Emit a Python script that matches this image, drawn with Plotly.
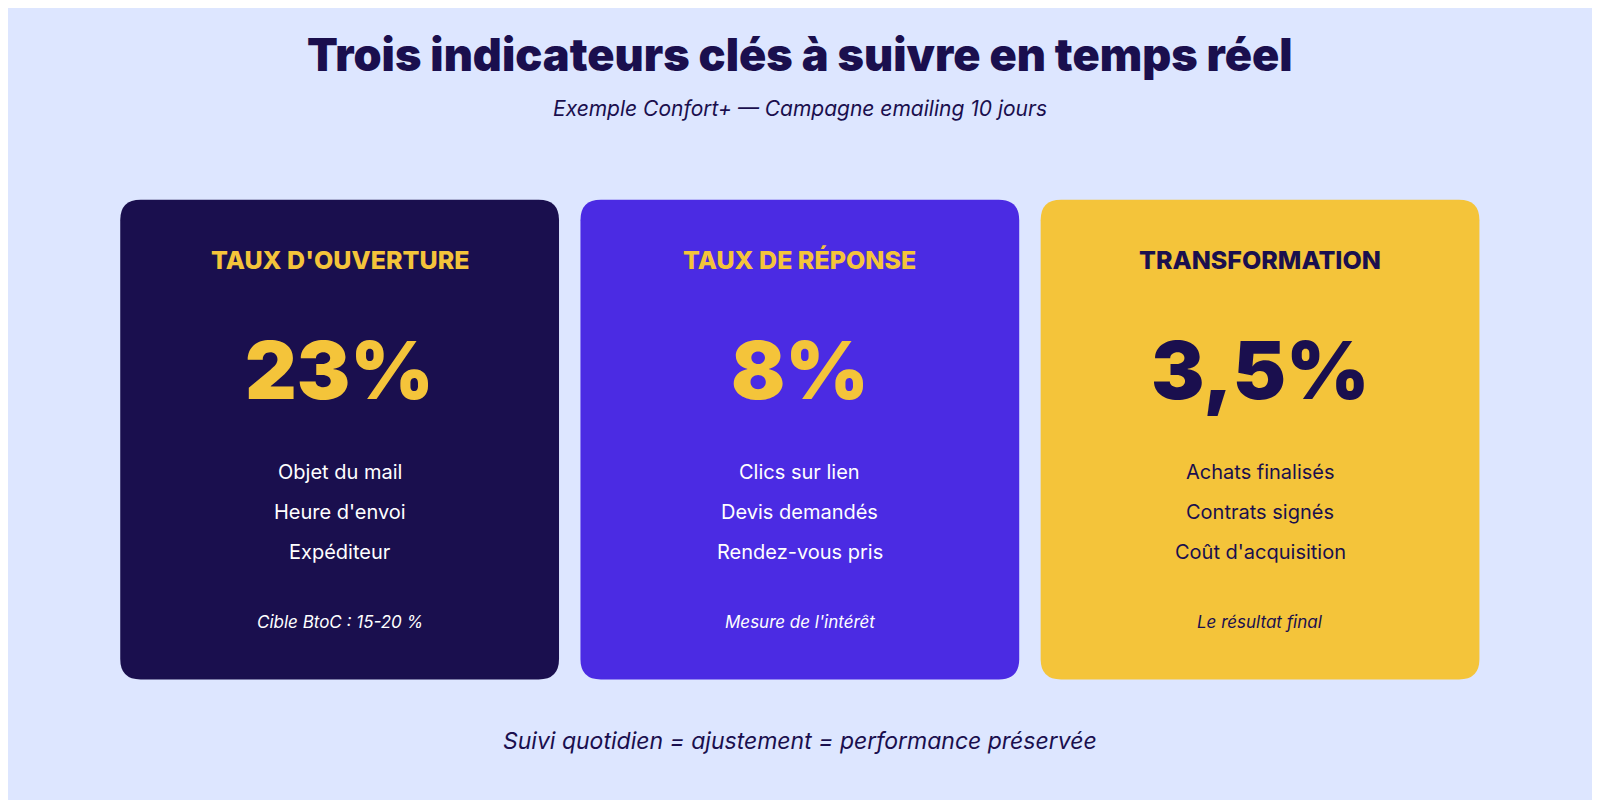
import plotly.graph_objs as go

# Données des cartes
titles = ["TAUX D'OUVERTURE", "TAUX DE RÉPONSE", "TRANSFORMATION"]
values = ["23%", "8%", "3,5%"]
items = [
    ["Objet du mail", "Heure d'envoi", "Expéditeur"],
    ["Clics sur lien", "Devis demandés", "Rendez-vous pris"],
    ["Achats finalisés", "Contrats signés", "Coût d'acquisition"],
]
notes = ["Cible BtoC : 15-20 %", "Mesure de l'intérêt", "Le résultat final"]
card_colors = ["#1a0f4e", "#4b2be3", "#f4c43a"]
accent_colors = ["#f4c43a", "#f4c43a", "#1a0f4e"]
text_colors = ["#ffffff", "#ffffff", "#1a0f4e"]

FONT = "Inter"
DARK = "#1a0f4e"


# Rectangle arrondi
def roundedRect(x0, y0, x1, y1, r):
    return (f"M {x0+r},{y0} L {x1-r},{y0} Q {x1},{y0} {x1},{y0+r} "
            f"L {x1},{y1-r} Q {x1},{y1} {x1-r},{y1} L {x0+r},{y1} "
            f"Q {x0},{y1} {x0},{y1-r} L {x0},{y0+r} Q {x0},{y0} {x0+r},{y0} Z")


def makeCards():
    shapes = []
    annotations = []
    width, gap, left = 430, 21, 118
    top, bottom = 196, 666
    for i in range(len(titles)):
        x0 = left + i * (width + gap)
        cx = x0 + width / 2
        shapes.append(dict(type="path", path=roundedRect(x0, top, x0 + width, bottom, 20),
                           fillcolor=card_colors[i], line=dict(width=0), layer="below"))
        annotations.append(dict(x=cx, y=255, text=titles[i],
                                font=dict(size=25, color=accent_colors[i], family=FONT, weight=800)))
        annotations.append(dict(x=cx, y=362, text=values[i],
                                font=dict(size=80, color=accent_colors[i], family=FONT, weight=900)))
        for j, item in enumerate(items[i]):
            annotations.append(dict(x=cx, y=463 + j * 39, text=item,
                                    font=dict(size=20, color=text_colors[i], family=FONT)))
        annotations.append(dict(x=cx, y=610, text="<i>" + notes[i] + "</i>",
                                font=dict(size=17, color=text_colors[i], family=FONT)))
    return shapes, annotations


if __name__ == "__main__":
    shapes, annotations = makeCards()
    annotations.append(dict(x=784, y=54, text="Trois indicateurs clés à suivre en temps réel",
                            font=dict(size=45, color=DARK, family=FONT, weight=900)))
    annotations.append(dict(x=784, y=106, text="<i>Exemple Confort+ — Campagne emailing 10 jours</i>",
                            font=dict(size=21, color=DARK, family=FONT)))
    annotations.append(dict(x=784, y=726, text="<i>Suivi quotidien = ajustement = performance préservée</i>",
                            font=dict(size=23, color=DARK, family=FONT)))
    for a in annotations:
        a.update(xref="x", yref="y", showarrow=False, xanchor="center", yanchor="middle")

    layout = go.Layout(
        showlegend=False,
        width=1600, height=800,
        margin=dict(l=0, r=0, t=0, b=0),
        paper_bgcolor="#dde6ff", plot_bgcolor="#dde6ff",
        xaxis=dict(range=[8, 1576], visible=False, fixedrange=True),  # décalage de la marge de page
        yaxis=dict(range=[792, 8], visible=False, fixedrange=True),
        shapes=shapes, annotations=annotations,
    )
    fig = go.Figure(data=[], layout=layout)
    fig.write_html("out.html")
